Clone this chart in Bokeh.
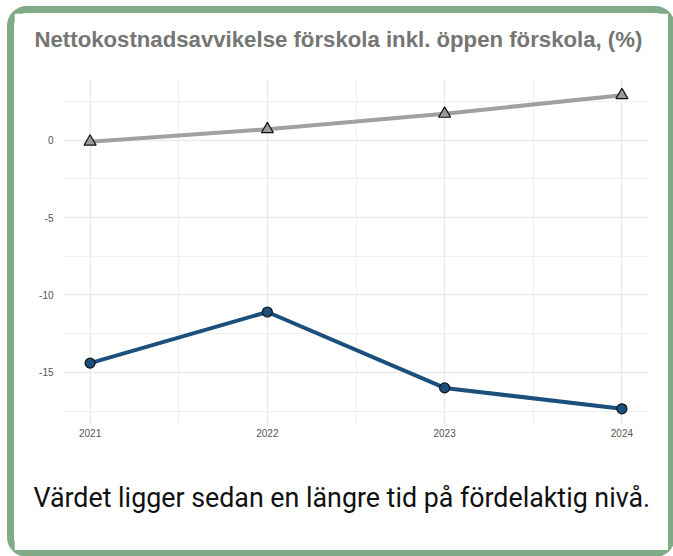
from bokeh.plotting import figure
from bokeh.models import Title, FixedTicker, Range1d
from bokeh.layouts import column
from bokeh.embed import file_html
from bokeh.resources import INLINE

years = [2021, 2022, 2023, 2024]
minor_years = [2021.5, 2022.5, 2023.5]
kommun = [-14.4, -11.1, -16.0, -17.35]
jamforelse = [-0.1, 0.7, 1.7, 2.9]
y_ticks = [-15, -10, -5, 0]
y_tick_labels = ["-15", "-10", "-5", "0"]
x_tick_labels = ["2021", "2022", "2023", "2024"]
y_minor = [-17.5, -12.5, -7.5, -2.5, 2.5]
title_text = "Nettokostnadsavvikelse förskola inkl. öppen förskola, (%)"
caption_text = "Värdet ligger sedan en längre tid på fördelaktig nivå."

xpad = 0.05 * (max(years) - min(years))
allv = kommun + jamforelse
ypad = 0.05 * (max(allv) - min(allv))

p = figure(width=654, height=537, output_backend="svg", toolbar_location=None,
           x_range=Range1d(min(years) - xpad, max(years) + xpad),
           y_range=Range1d(min(allv) - ypad, max(allv) + ypad),
           min_border_left=49, min_border_right=20, min_border_top=66,
           min_border_bottom=126)

p.outline_line_color = None
p.background_fill_color = "white"
p.border_fill_color = "white"

p.xaxis.ticker = FixedTicker(ticks=years, minor_ticks=minor_years)
p.yaxis.ticker = FixedTicker(ticks=y_ticks, minor_ticks=y_minor)
p.xaxis.major_label_overrides = dict(zip(years, x_tick_labels))
p.yaxis.major_label_overrides = dict(zip(y_ticks, y_tick_labels))
p.xgrid.ticker = p.xaxis.ticker
p.ygrid.ticker = p.yaxis.ticker
for g in (p.xgrid, p.ygrid):
    g.grid_line_color = "#ebebeb"
    g.grid_line_width = 1.5
    g.minor_grid_line_color = "#f0f0f0"
    g.minor_grid_line_width = 1.2

for ax in (p.xaxis, p.yaxis):
    ax.axis_line_color = None
    ax.major_tick_line_color = None
    ax.minor_tick_line_color = None
    ax.major_tick_in = 0
    ax.major_tick_out = 0
    ax.major_label_text_font = "Liberation Sans"
    ax.major_label_text_font_size = "10px"
    ax.major_label_text_color = "#555555"
p.xaxis.major_label_standoff = 0
p.yaxis.major_label_standoff = 6

p.line(years, jamforelse, line_color="#a0a0a0", line_width=4)
p.scatter(years, jamforelse, marker="triangle", size=12,
          fill_color="#9a9a9a", line_color="#111111", line_width=1.2)
p.line(years, kommun, line_color="#1b4f7c", line_width=4)
p.scatter(years, kommun, marker="circle", size=10,
          fill_color="#1b4f7c", line_color="#111111", line_width=1.2)

# spacer between frame and title
top_spacer = Title(text=" ", text_font_size="1px", standoff=24.5)
p.add_layout(top_spacer, "above")

p.title.text = title_text
p.title.align = "left"
p.title.offset = -29
p.title.text_font = "Liberation Sans"
p.title.text_font_size = "22.2px"
p.title.text_font_style = "bold"
p.title.text_color = "#757575"
p.title.standoff = 0

bottom_spacer = Title(text=" ", text_font_size="1px", standoff=37)
p.add_layout(bottom_spacer, "below")
cap = Title(text=caption_text, align="left", offset=-30, text_font="Roboto",
            text_font_size="26.8px", text_font_style="normal", text_color="#111111",
            standoff=0)
p.add_layout(cap, "below")

layout = column(p, styles={"border": "7px solid #80ab86", "border-radius": "20px",
                           "margin-left": "7px", "margin-top": "6px",
                           "background-color": "white"})

open("out.html", "w").write(file_html(layout, INLINE))
